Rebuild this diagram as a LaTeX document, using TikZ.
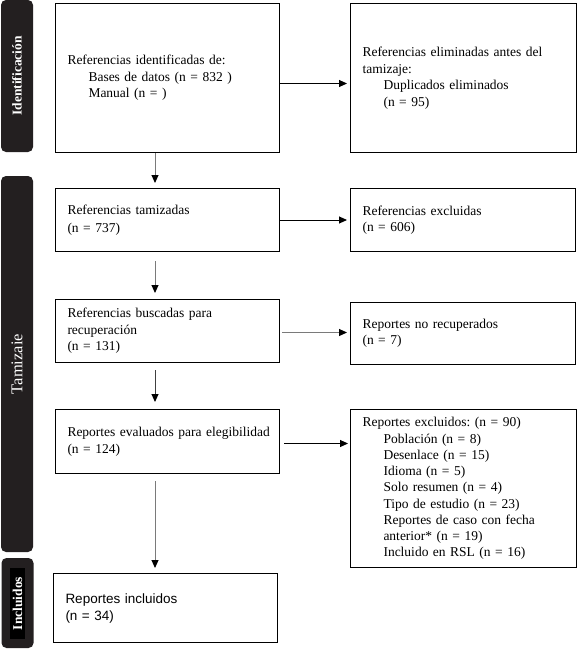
\documentclass[tikz,border=0pt]{standalone}
\usepackage{fontspec}
\setmainfont{Liberation Serif}
\newfontfamily\arialf{Liberation Sans}
\usetikzlibrary{arrows.meta,calc}
\definecolor{side}{HTML}{231F20}
\definecolor{arrgray}{HTML}{7A7A7A}
\begin{document}
\frenchspacing
\begin{tikzpicture}[x=1pt,y=-1pt,
  box/.style={draw=black, line width=1pt, anchor=north west, inner xsep=12pt, inner ysep=0pt,
    align=left, font=\fontsize{13.5}{16.5}\selectfont},
  sidebar/.style={fill=side, rounded corners=5pt, rotate=90, text=white, inner sep=0pt},
  arr/.style={-{Triangle[length=8pt,width=7pt,color=black]}, line width=1pt, draw=black},
  garr/.style={arr, draw=arrgray},
]
\useasboundingbox (0,0) rectangle (577,650);
\fill[white] (0,0) rectangle (577,650);

% side bars
\node[sidebar, minimum width=152pt, minimum height=32pt, font=\fontsize{13.5}{16}\selectfont\bfseries] (s1) at (17,76) {Identificación};
\node[sidebar, minimum width=376pt, minimum height=32pt, font=\fontsize{16.5}{18}\selectfont] (s2) at (17,364) {Tamizaie};
\node[sidebar, minimum width=90pt, minimum height=32pt] (s3) at (17.5,603) {};
\node[fill=black, rotate=90, minimum width=71pt, minimum height=15pt, inner sep=0pt, text=white,
  font=\fontsize{13.5}{16}\selectfont\bfseries] (s3t) at (17.5,603.5) {Incluidos};

% boxes
\node[box, text width=200pt, minimum height=149pt] (b1) at (55,3)
  {Referencias identificadas de:\\\hspace*{21pt}Bases de datos (n = 832 )\\\hspace*{21pt}Manual (n = )};
\node[box, text width=202pt, minimum height=149pt] (r1) at (350,3)
  {Referencias eliminadas antes del\\tamizaje:\\\hspace*{21pt}Duplicados eliminados\\\hspace*{21pt}(n = 95)};
\node[box, text width=200pt, minimum height=63pt, font=\fontsize{13.5}{17.5}\selectfont] (b2) at (55,188)
  {Referencias tamizadas\\(n = 737)};
\node[box, text width=201pt, minimum height=63pt] (r2) at (350,188)
  {Referencias excluidas\\(n = 606)};
\node[box, text width=200pt, minimum height=63pt] (b3) at (55,299)
  {Referencias buscadas para\\recuperación\\(n = 131)};
\node[box, text width=201pt, minimum height=62pt] (r3) at (350,302)
  {Reportes no recuperados\\(n = 7)};
\node[box, text width=200pt, minimum height=64pt] (b4) at (55,409)
  {\mbox{Reportes evaluados para elegibilidad}\\(n = 124)};
\node[box, text width=202pt, minimum height=158pt, font=\fontsize{13.5}{16.25}\selectfont] (r4) at (350,409)
  {Reportes excluidos: (n = 90)\\
   \hspace*{21pt}Población (n = 8)\\
   \hspace*{21pt}Desenlace (n = 15)\\
   \hspace*{21pt}Idioma (n = 5)\\
   \hspace*{21pt}Solo resumen (n = 4)\\
   \hspace*{21pt}Tipo de estudio (n = 23)\\
   \hspace*{21pt}Reportes de caso con fecha\\
   \hspace*{21pt}anterior* (n = 19)\\
   \hspace*{21pt}Incluido en RSL (n = 16)};
\node[box, text width=200pt, minimum height=69pt, font=\arialf\fontsize{13.5}{17}\selectfont] (b5) at (53,573)
  {Reportes incluidos\\(n = 34)};

% vertical arrows
\coordinate (v1) at ($(b1.south west)+(100,0)$);
\coordinate (v2) at ($(b2.south west)+(100,0)$);
\coordinate (v3) at ($(b3.south west)+(100,0)$);
\coordinate (v4) at ($(b4.south west)+(100,0)$);
\draw[garr, shorten >=5pt] (v1) -- (v1 |- b2.north);
\draw[garr, shorten <=9pt, shorten >=6pt] (v2) -- (v2 |- b3.north);
\draw[arr, draw=black!75, shorten <=7pt, shorten >=7pt] (v3) -- (v3 |- b4.north);
\draw[garr, shorten <=7pt, shorten >=5pt] (v4) -- (v4 |- b5.north);

% horizontal arrows
\draw[arr, shorten >=3pt] ([yshift=-5.5pt]b1.east) -- ([yshift=-5.5pt]r1.west);
\draw[arr, shorten >=3pt] (b2.east) -- (b2.east -| r2.west);
\draw[garr, shorten <=2pt, shorten >=3pt] ([yshift=-1.5pt]b3.east) -- ([yshift=-1.5pt]b3.east -| r3.west);
\draw[arr, shorten <=4pt, shorten >=2pt] ([yshift=-2pt]b4.east) -- ([yshift=-2pt]b4.east -| r4.west);
\end{tikzpicture}
\end{document}
